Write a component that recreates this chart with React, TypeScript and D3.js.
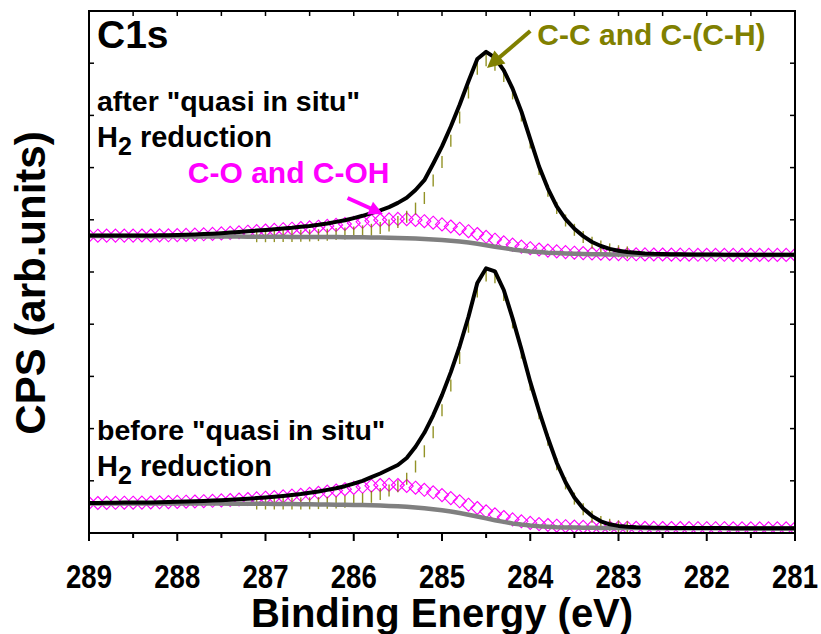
import React from 'react';
import * as d3 from 'd3';

// ---- sampling grid (binding energy, eV) ----
const ENERGY_START = 289.0;
const ENERGY_STEP = 0.1;
const POINT_COUNT = 81;

// ---- axis ticks ----
const xMajorTicks = [289, 288, 287, 286, 285, 284, 283, 282, 281];
const xMinorTicks = [288.5, 287.5, 286.5, 285.5, 284.5, 283.5, 282.5, 281.5];
const xTickLabels = ['289', '288', '287', '286', '285', '284', '283', '282', '281'];
const yTicks = [0, 52.2, 104.4, 156.6, 208.8, 261, 313.2, 365.4, 417.6, 469.8, 522];

// ---- "after quasi in situ H2 reduction" spectrum (upper, offset) ----
const afterBackground = [
  297.0, 297.0, 297.0, 297.0, 296.9, 296.9, 296.9, 296.8, 296.8, 296.7,
  296.7, 296.6, 296.6, 296.5, 296.5, 296.5, 296.4, 296.4, 296.3, 296.3,
  296.2, 296.2, 296.2, 296.1, 296.1, 296.0, 296.0, 295.9, 295.9, 295.8,
  295.8, 295.7, 295.6, 295.5, 295.3, 295.1, 294.8, 294.4, 294.0, 293.5,
  293.0, 292.3, 291.5, 290.5, 289.2, 287.8, 286.3, 284.9, 283.6, 282.5,
  281.6, 280.9, 280.3, 279.9, 279.5, 279.2, 279.0, 278.8, 278.7, 278.6,
  278.5, 278.4, 278.4, 278.3, 278.3, 278.3, 278.2, 278.2, 278.2, 278.1,
  278.1, 278.1, 278.1, 278.0, 278.0, 278.0, 278.0, 278.0, 278.0, 278.0,
  278.0,
];
const afterCO = [
  0.3, 0.3, 0.4, 0.4, 0.5, 0.5, 0.6, 0.7, 0.8, 1.0,
  1.2, 1.5, 1.8, 2.2, 2.6, 3.1, 3.7, 4.3, 5.0, 5.6,
  6.3, 6.9, 7.6, 8.2, 8.9, 9.6, 10.3, 11.2, 12.2, 13.2,
  14.3, 15.5, 16.6, 17.5, 18.3, 19.0, 19.0, 18.6, 17.8, 16.8,
  15.6, 14.2, 12.8, 11.3, 9.8, 8.4, 7.0, 5.8, 4.8, 3.9,
  3.2, 2.6, 2.1, 1.7, 1.4, 1.1, 0.9, 0.7, 0.6, 0.5,
  0.4, 0.3, 0.3, 0.3, 0.2, 0.2, 0.2, 0.2, 0.1, 0.1,
  0.1, 0.1, 0.1, 0.1, 0.1, 0.1, 0.1, 0.1, 0.1, 0.1,
  0.1,
];
const afterCC = [
  0.1, 0.1, 0.1, 0.1, 0.1, 0.1, 0.1, 0.1, 0.1, 0.1,
  0.1, 0.1, 0.1, 0.2, 0.2, 0.2, 0.3, 0.3, 0.4, 0.5,
  0.6, 0.7, 0.8, 1.0, 1.2, 1.5, 1.9, 2.4, 3.0, 3.8,
  4.8, 6.0, 7.6, 9.6, 12.3, 16.0, 21.5, 30, 41, 59,
  78, 100, 124, 150, 175, 185, 182, 172, 156, 135,
  109, 83, 62, 45, 33, 24, 17, 11.5, 7.7, 5.0,
  3.3, 2.2, 1.5, 1.0, 0.7, 0.5, 0.4, 0.3, 0.3, 0.2,
  0.2, 0.2, 0.1, 0.1, 0.1, 0.1, 0.1, 0.1, 0.1, 0.1,
  0.1,
];

// ---- "before quasi in situ H2 reduction" spectrum (lower) ----
const beforeBackground = [
  29.6, 29.6, 29.6, 29.6, 29.6, 29.5, 29.5, 29.5, 29.5, 29.5,
  29.5, 29.5, 29.4, 29.4, 29.4, 29.4, 29.3, 29.3, 29.2, 29.2,
  29.2, 29.1, 29.0, 28.9, 28.8, 28.7, 28.6, 28.5, 28.3, 28.2,
  28.1, 27.9, 27.7, 27.4, 27.1, 26.7, 26.2, 25.5, 24.7, 23.8,
  22.7, 21.5, 20.0, 18.3, 16.5, 14.6, 12.8, 11.1, 9.6, 8.4,
  7.4, 6.7, 6.2, 5.8, 5.6, 5.4, 5.3, 5.2, 5.1, 5.0,
  5.0, 4.9, 4.9, 4.9, 4.8, 4.8, 4.8, 4.8, 4.7, 4.7,
  4.7, 4.7, 4.7, 4.6, 4.6, 4.6, 4.6, 4.6, 4.6, 4.6,
  4.6,
];
const beforeCO = [
  0.4, 0.4, 0.5, 0.6, 0.7, 0.8, 0.9, 1.0, 1.2, 1.4,
  1.6, 1.8, 2.1, 2.4, 2.8, 3.2, 3.7, 4.2, 4.8, 5.4,
  6.1, 6.8, 7.6, 8.5, 9.4, 10.5, 11.6, 12.9, 14.2, 15.6,
  17.0, 18.3, 19.6, 20.6, 21.2, 21.3, 20.8, 19.8, 18.5, 16.9,
  15.2, 13.4, 11.7, 10.0, 8.5, 7.1, 5.9, 4.9, 4.0, 3.3,
  2.7, 2.2, 1.8, 1.5, 1.2, 1.0, 0.8, 0.7, 0.6, 0.5,
  0.4, 0.4, 0.3, 0.3, 0.3, 0.2, 0.2, 0.2, 0.2, 0.1,
  0.1, 0.1, 0.1, 0.1, 0.1, 0.1, 0.1, 0.1, 0.1, 0.1,
  0.1,
];
const beforeCC = [
  0.1, 0.1, 0.1, 0.1, 0.1, 0.1, 0.1, 0.1, 0.1, 0.1,
  0.2, 0.2, 0.2, 0.2, 0.2, 0.2, 0.2, 0.2, 0.3, 0.3,
  0.3, 0.4, 0.5, 0.6, 0.8, 1.0, 1.3, 1.7, 2.2, 3.0,
  4.2, 6.0, 8.5, 11.5, 15.5, 20, 28, 41, 57, 77,
  100, 126, 155, 188, 225, 243, 243, 227, 201, 172,
  141, 113, 87, 63, 44, 29, 18.5, 11, 6.0, 3.2,
  1.7, 0.9, 0.5, 0.3, 0.2, 0.2, 0.1, 0.1, 0.1, 0.1,
  0.1, 0.1, 0.1, 0.1, 0.1, 0.1, 0.1, 0.1, 0.1, 0.1,
  0.1,
];

// energy window over which the C-C component markers were plotted
const ccWindow = [287.1, 282.9];

const W = 821;
const H = 634;
const PLOT = { left: 89, right: 795, top: 11, bottom: 533 };

const FONT = 'Liberation Sans, Arial, Helvetica, sans-serif';
const OLIVE = '#808000';
const MAGENTA = '#ff00ff';

type Pt = { e: number; v: number };

function buildSpectrum(bg: number[], co: number[], cc: number[]) {
  const energies = Array.from({ length: POINT_COUNT }, (_, i) => +(ENERGY_START - i * ENERGY_STEP).toFixed(1));
  const background: Pt[] = energies.map((e, i) => ({ e, v: bg[i] }));
  const coCurve: Pt[] = energies.map((e, i) => ({ e, v: bg[i] + co[i] }));
  const ccCurve: Pt[] = energies
    .map((e, i) => ({ e, v: bg[i] + cc[i] }))
    .filter((p) => p.e <= ccWindow[0] + 1e-6 && p.e >= ccWindow[1] - 1e-6);
  const envelope: Pt[] = energies.map((e, i) => ({ e, v: bg[i] + co[i] + cc[i] }));
  return { background, coCurve, ccCurve, envelope };
}

function Arrow({ x1, y1, x2, y2, color, headLen, headW, width }: any) {
  const dx = x2 - x1;
  const dy = y2 - y1;
  const len = Math.sqrt(dx * dx + dy * dy);
  const ux = dx / len;
  const uy = dy / len;
  const bx = x2 - ux * headLen;
  const by = y2 - uy * headLen;
  const px = -uy;
  const py = ux;
  const head = `M${x2},${y2} L${bx + px * headW / 2},${by + py * headW / 2} L${bx - px * headW / 2},${by - py * headW / 2} Z`;
  return (
    <g>
      <line x1={x1} y1={y1} x2={bx + ux * 2} y2={by + uy * 2} stroke={color} strokeWidth={width} />
      <path d={head} fill={color} />
    </g>
  );
}

export default function App() {
  const x = d3.scaleLinear().domain([289, 281]).range([PLOT.left, PLOT.right]);
  const y = d3.scaleLinear().domain([0, 522]).range([PLOT.bottom, PLOT.top]);

  const line = d3
    .line<Pt>()
    .x((d) => x(d.e))
    .y((d) => y(d.v));

  const spectra = [
    buildSpectrum(afterBackground, afterCO, afterCC),
    buildSpectrum(beforeBackground, beforeCO, beforeCC),
  ];

  const diamond = (cx: number, cy: number, r: number) =>
    `M${cx},${cy - r} L${cx + r},${cy} L${cx},${cy + r} L${cx - r},${cy} Z`;

  // annotation anchors (data coordinates)
  const ccArrow = { from: [284.0, 502], to: [284.49, 465] };
  const coArrow = { from: [286.07, 335], to: [285.67, 319] };

  const labelStyle = { fontFamily: FONT, fontWeight: 'bold' as const };

  return (
    <div style={{ position: 'fixed', left: 0, top: 0 }}>
      <svg width={W} height={H} viewBox={`0 0 ${W} ${H}`} style={{ display: 'block', background: '#fff' }}>
        <defs>
          <clipPath id="plotClip">
            <rect x={PLOT.left} y={PLOT.top} width={PLOT.right - PLOT.left} height={PLOT.bottom - PLOT.top} />
          </clipPath>
        </defs>
        <rect x={0} y={0} width={W} height={H} fill="#fff" />

        <g clipPath="url(#plotClip)">
          {spectra.map((s, si) => (
            <g key={'co' + si}>
              {s.coCurve.map((p, i) => (
                <path key={i} d={diamond(x(p.e), y(p.v), 6.5)} fill="none" stroke={MAGENTA} strokeWidth={1.1} />
              ))}
            </g>
          ))}
          {spectra.map((s, si) => (
            <g key={'cc' + si}>
              {s.ccCurve.map((p, i) => (
                <line
                  key={i}
                  x1={x(p.e)}
                  x2={x(p.e)}
                  y1={y(p.v) - 6}
                  y2={y(p.v) + 6}
                  stroke={OLIVE}
                  strokeWidth={1.4}
                  strokeOpacity={0.85}
                />
              ))}
            </g>
          ))}
          {spectra.map((s, si) => (
            <path key={'bg' + si} d={line(s.background) || ''} fill="none" stroke="#808080" strokeWidth={4.5} strokeLinejoin="round" />
          ))}
          {spectra.map((s, si) => (
            <path key={'env' + si} d={line(s.envelope) || ''} fill="none" stroke="#000" strokeWidth={4} strokeLinejoin="round" />
          ))}
        </g>

        {/* frame */}
        <rect
          x={PLOT.left}
          y={PLOT.top}
          width={PLOT.right - PLOT.left}
          height={PLOT.bottom - PLOT.top}
          fill="none"
          stroke="#000"
          strokeWidth={2}
        />
        {/* bottom ticks (outward) */}
        {xMajorTicks.map((t) => (
          <line key={'bM' + t} x1={x(t)} x2={x(t)} y1={PLOT.bottom} y2={PLOT.bottom + 8} stroke="#000" strokeWidth={2} />
        ))}
        {xMinorTicks.map((t) => (
          <line key={'bm' + t} x1={x(t)} x2={x(t)} y1={PLOT.bottom} y2={PLOT.bottom + 5} stroke="#000" strokeWidth={2} />
        ))}
        {/* top ticks (inward) */}
        {[...xMajorTicks, ...xMinorTicks].map((t) => (
          <line key={'t' + t} x1={x(t)} x2={x(t)} y1={PLOT.top} y2={PLOT.top + 5} stroke="#000" strokeWidth={1.5} />
        ))}
        {/* left/right ticks (inward) */}
        {yTicks.map((t) => (
          <g key={'y' + t}>
            <line x1={PLOT.left} x2={PLOT.left + 5} y1={y(t)} y2={y(t)} stroke="#000" strokeWidth={1.5} />
            <line x1={PLOT.right - 5} x2={PLOT.right} y1={y(t)} y2={y(t)} stroke="#000" strokeWidth={1.5} />
          </g>
        ))}
        {/* tick labels */}
        {xMajorTicks.map((t, i) => (
          <text
            key={'l' + t}
            x={x(t) - 23}
            y={588}
            {...labelStyle}
            fontSize={34}
            textLength={46}
            lengthAdjust="spacingAndGlyphs"
            fill="#000"
          >
            {xTickLabels[i]}
          </text>
        ))}
        {/* axis titles */}
        <text x={(PLOT.left + PLOT.right) / 2} y={627} textAnchor="middle" {...labelStyle} fontSize={40} fill="#000">
          Binding Energy (eV)
        </text>
        <text
          transform={`translate(45,${283}) rotate(-90)`}
          textAnchor="middle"
          {...labelStyle}
          fontSize={42}
          fill="#000"
        >
          CPS (arb.units)
        </text>

        {/* in-plot labels */}
        <text x={97} y={48} {...labelStyle} fontSize={39} fill="#000">C1s</text>
        <text x={97} y={111} {...labelStyle} fontSize={28.5} fill="#000">{'after "quasi in situ"'}</text>
        <text x={97} y={147} {...labelStyle} fontSize={29} fill="#000">
          H<tspan fontSize={25} dy={8}>2</tspan>
          <tspan dy={-8}> reduction</tspan>
        </text>
        <text x={97} y={440} {...labelStyle} fontSize={28.5} fill="#000">{'before "quasi in situ"'}</text>
        <text x={97} y={476} {...labelStyle} fontSize={29} fill="#000">
          H<tspan fontSize={25} dy={8}>2</tspan>
          <tspan dy={-8}> reduction</tspan>
        </text>

        <text x={x(283.92)} y={y(488)} {...labelStyle} fontSize={30} fill={OLIVE}>C-C and C-(C-H)</text>
        <text x={x(287.88)} y={y(350)} {...labelStyle} fontSize={30} fill={MAGENTA}>C-O and C-OH</text>

        <Arrow
          x1={x(ccArrow.from[0])}
          y1={y(ccArrow.from[1])}
          x2={x(ccArrow.to[0])}
          y2={y(ccArrow.to[1])}
          color={OLIVE}
          headLen={17}
          headW={17}
          width={4}
        />
        <Arrow
          x1={x(coArrow.from[0])}
          y1={y(coArrow.from[1])}
          x2={x(coArrow.to[0])}
          y2={y(coArrow.to[1])}
          color={MAGENTA}
          headLen={14}
          headW={14}
          width={4}
        />
      </svg>
    </div>
  );
}
